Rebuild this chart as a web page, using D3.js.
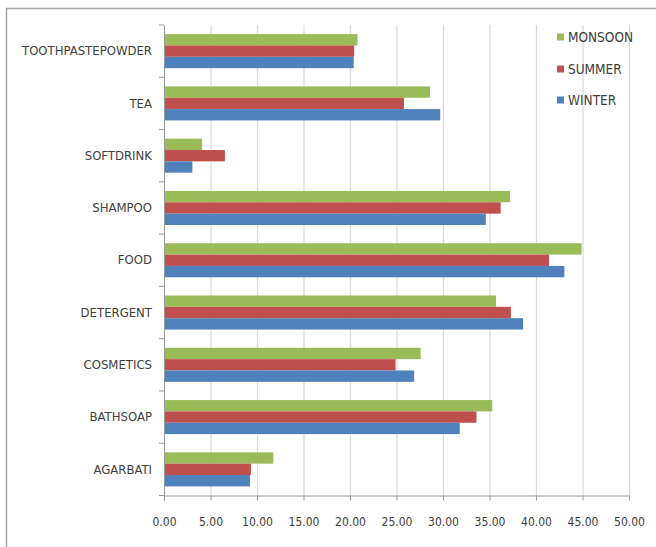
<!DOCTYPE html>
<html>
<head>
<meta charset="utf-8">
<script src="https://cdn.jsdelivr.net/npm/d3@7"></script>
<style>
  html, body { margin: 0; padding: 0; background: #fff; }
  svg text { font-family: "Liberation Sans Narrow", "DejaVu Sans Condensed", sans-serif; fill: #404040; }
</style>
</head>
<body>
<svg id="chart"></svg>
<script>
// categories top to bottom as drawn
var categories = ["TOOTHPASTEPOWDER", "TEA", "SOFTDRINK", "SHAMPOO", "FOOD", "DETERGENT", "COSMETICS", "BATHSOAP", "AGARBATI"];
var seriesNames = ["MONSOON", "SUMMER", "WINTER"];
var seriesColors = ["#9BBB59", "#C0504D", "#4F81BD"];
var monsoon = [20.8, 28.6, 4.1, 37.2, 44.9, 35.7, 27.6, 35.3, 11.75];
var summer  = [20.45, 25.8, 6.55, 36.2, 41.4, 37.3, 24.9, 33.6, 9.35];
var winter  = [20.4, 29.7, 3.05, 34.6, 43.05, 38.6, 26.9, 31.8, 9.25];
var xTicks = [0, 5, 10, 15, 20, 25, 30, 35, 40, 45, 50];

var width = 656, height = 547;
// note: "top" is taken by window.top, so use plot* names
var plotLeft = 164, plotRight = 629, plotTop = 25, plotBottom = 495.5;

var svg = d3.select('#chart')
  .attr('width', width)
  .attr('height', height);

// outer frame
svg.append('rect')
  .attr('x', 6.5).attr('y', 8.5)
  .attr('width', 700).attr('height', 600)
  .attr('fill', 'none')
  .attr('stroke', '#a6a6a6')
  .attr('stroke-width', 1.5);

var x = d3.scaleLinear().domain([0, 50]).range([plotLeft, plotRight]);
var y = d3.scaleBand().domain(categories).range([plotTop, plotBottom]);

// gridlines
svg.append('g')
  .selectAll('line')
  .data(xTicks.slice(1))
  .enter().append('line')
    .attr('x1', d => x(d) + 0.5).attr('x2', d => x(d) + 0.5)
    .attr('y1', plotTop).attr('y2', plotBottom)
    .attr('stroke', '#d9d9d9')
    .attr('stroke-width', 1.2);

// bars
var values = [monsoon, summer, winter];
var bw = y.bandwidth();
var bh = bw * 0.217;
var offset = (bw - 3 * bh) / 2;

seriesNames.forEach(function(name, s) {
  svg.append('g')
    .selectAll('rect')
    .data(values[s])
    .enter().append('rect')
      .attr('x', x(0))
      .attr('y', (d, i) => y(categories[i]) + offset + s * bh)
      .attr('width', d => x(d) - x(0))
      .attr('height', bh)
      .attr('fill', seriesColors[s]);
});

// x axis
var xAxis = svg.append('g')
  .attr('transform', `translate(0, ${plotBottom})`)
  .call(d3.axisBottom(x).tickValues(xTicks).tickFormat(d3.format('.2f')).tickSize(5).tickPadding(17));
xAxis.select('.domain').attr('stroke', '#9a9a9a');
xAxis.selectAll('.tick line').attr('stroke', '#9a9a9a');
xAxis.selectAll('text').attr('font-size', 12).attr('fill', '#4a4a4a');

// y axis
var yAxis = svg.append('g')
  .attr('transform', `translate(${plotLeft}, 0)`)
  .call(d3.axisLeft(y).tickSize(0).tickPadding(12));
yAxis.select('.domain').attr('stroke', '#9a9a9a');
yAxis.selectAll('text').attr('font-size', 13).attr('fill', '#4a4a4a');
// category boundary ticks
yAxis.selectAll('.cat-tick')
  .data(categories.concat(['end']))
  .enter().append('line')
    .attr('x1', -5).attr('x2', 0)
    .attr('y1', (d, i) => plotTop + i * bw)
    .attr('y2', (d, i) => plotTop + i * bw)
    .attr('stroke', '#9a9a9a');

// legend
var legend = svg.append('g');
var legendY = [37, 69, 100];
seriesNames.forEach(function(name, s) {
  legend.append('rect')
    .attr('x', 557).attr('y', legendY[s] - 3.5)
    .attr('width', 7).attr('height', 7)
    .attr('fill', seriesColors[s]);
  legend.append('text')
    .attr('x', 568).attr('y', legendY[s])
    .attr('dy', '0.35em')
    .attr('font-size', 13.5)
    .attr('fill', '#4a4a4a')
    .text(name);
});
</script>
</body>
</html>
